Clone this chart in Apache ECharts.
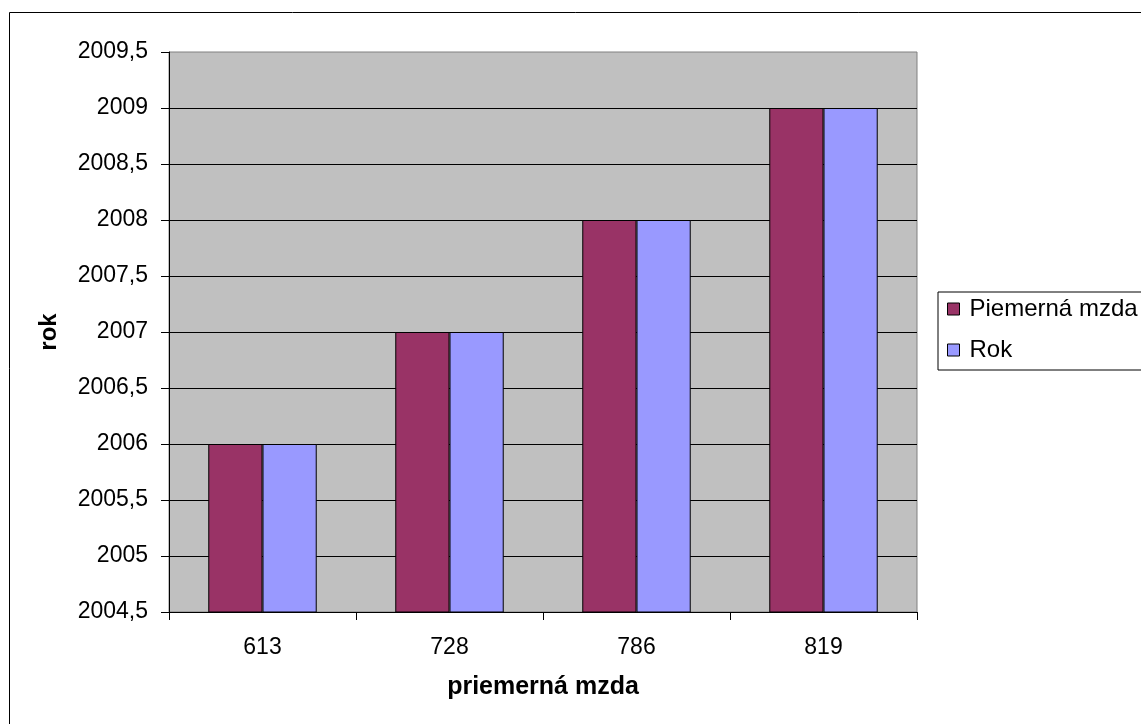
<!DOCTYPE html>
<html><head><meta charset="utf-8">
<script src="https://cdn.jsdelivr.net/npm/echarts@6/dist/echarts.min.js"></script>
<style>html,body{margin:0;padding:0;background:#fff;}#c{width:1141px;height:724px;}</style>
</head><body><div id="c"></div>
<script>
const categories = ['613', '728', '786', '819'];
const seriesNames = ['Piemerná mzda', 'Rok'];
const mzdaValues = [2006, 2007, 2008, 2009];
const rokValues = [2006, 2007, 2008, 2009];
const yMin = 2004.5, yMax = 2009.5, yStep = 0.5;

const font = 'Liberation Sans, Arial, sans-serif';
const chart = echarts.init(document.getElementById('c'));
chart.setOption({
  animation: false,
  backgroundColor: '#ffffff',
  textStyle: { fontFamily: font },
  graphic: [{
    type: 'rect', shape: { x: 9.5, y: 12.5, width: 1200, height: 800 },
    style: { fill: 'none', stroke: '#000', lineWidth: 1 }, z: 0, silent: true
  }],
  grid: {
    left: 169, top: 52, right: 224, bottom: 112,
    show: true, backgroundColor: '#C0C0C0', borderColor: '#808080', borderWidth: 1
  },
  legend: {
    orient: 'vertical', left: 938, top: 292,
    data: seriesNames,
    borderColor: '#000', borderWidth: 1,
    padding: [5, 30, 8, 9],
    itemWidth: 12, itemHeight: 12, itemGap: 17,
    icon: 'rect',
    textStyle: { fontFamily: font, fontSize: 24, lineHeight: 24, color: '#000', padding: [0, 0, 0, 5] },
    itemStyle: { borderColor: '#000', borderWidth: 1 }
  },
  xAxis: {
    type: 'category', data: categories,
    name: 'priemerná mzda', nameLocation: 'middle', nameGap: 63,
    nameTextStyle: { fontFamily: font, fontSize: 25, fontWeight: 'bold', color: '#000' },
    axisLine: { lineStyle: { color: '#000', width: 1 } },
    axisTick: { show: true, length: 8, inside: false, lineStyle: { color: '#000' } },
    axisLabel: { margin: 24, fontFamily: font, fontSize: 23, color: '#000' },
    splitLine: { show: false }
  },
  yAxis: {
    type: 'value', min: yMin, max: yMax, interval: yStep,
    name: 'rok', nameLocation: 'middle', nameGap: 108, nameRotate: 90,
    nameTextStyle: { fontFamily: font, fontSize: 24, fontWeight: 'bold', color: '#000' },
    axisLine: { show: true, lineStyle: { color: '#000', width: 1 } },
    axisTick: { show: true, length: 8, lineStyle: { color: '#000' } },
    axisLabel: { margin: 21, fontFamily: font, fontSize: 23, color: '#000',
      formatter: v => String(v).replace('.', ',') },
    splitLine: { show: true, showMinLine: false, showMaxLine: false, lineStyle: { color: '#000', width: 1 } }
  },
  series: [
    { name: seriesNames[0], type: 'bar', data: mzdaValues, barGap: '0%', barCategoryGap: '42%',
      itemStyle: { color: '#993366', borderColor: '#000', borderWidth: 1 } },
    { name: seriesNames[1], type: 'bar', data: rokValues, barGap: '0%', barCategoryGap: '42%',
      itemStyle: { color: '#9999FF', borderColor: '#000', borderWidth: 1 } }
  ]
});
</script></body></html>
